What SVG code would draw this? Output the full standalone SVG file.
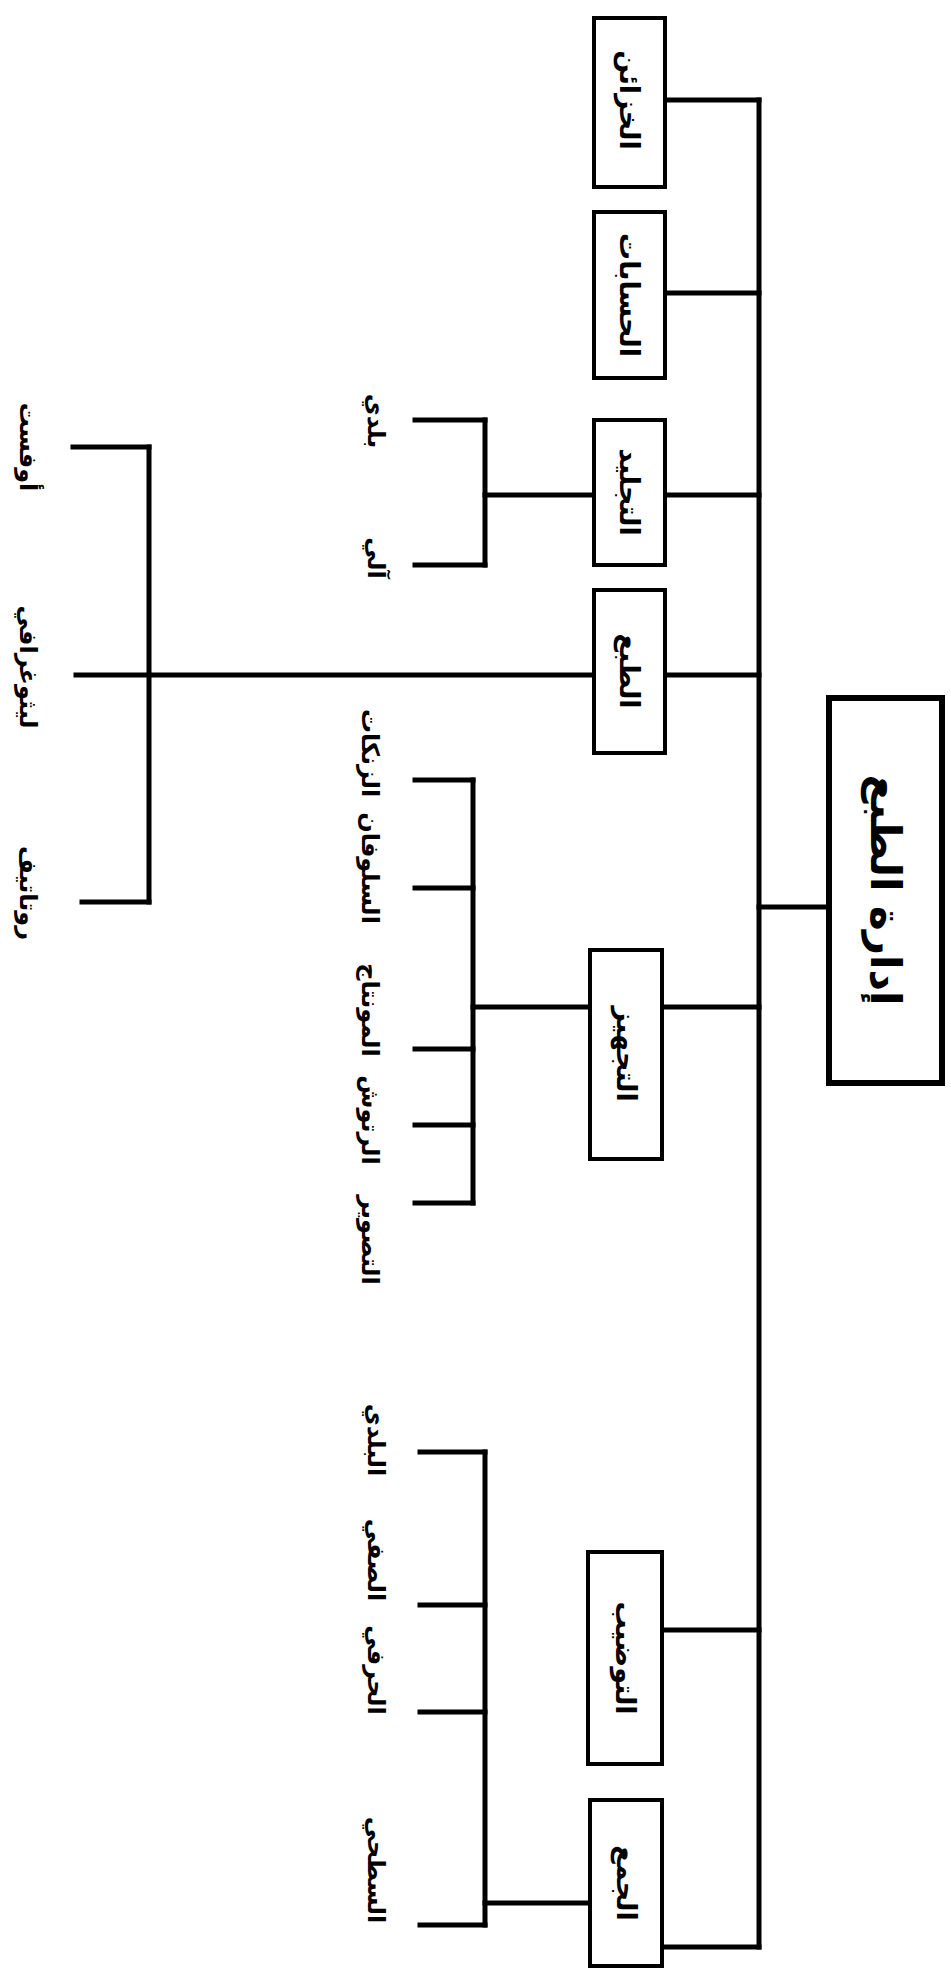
<svg xmlns="http://www.w3.org/2000/svg" width="951" height="1983" viewBox="0 0 951 1983">
<style>
.box{fill:#fff;stroke:#000;stroke-width:4}
.head{fill:#fff;stroke:#000;stroke-width:6}
.ln{stroke:#000;stroke-width:5;fill:none;stroke-linecap:square}
text{font-family:"DejaVu Sans",sans-serif;font-weight:bold;fill:#000;text-anchor:middle;dominant-baseline:central}
.bt{font-size:27px}
.ht{font-size:42px}
.st{font-size:24px}
</style>
<rect width="951" height="1983" fill="#fff"/>
<g id="connectors">
<line class="ln" x1="759" y1="100" x2="759" y2="1947"/>
<line class="ln" x1="665" y1="100" x2="759" y2="100"/>
<line class="ln" x1="665" y1="293" x2="759" y2="293"/>
<line class="ln" x1="665" y1="495" x2="759" y2="495"/>
<line class="ln" x1="665" y1="675" x2="759" y2="675"/>
<line class="ln" x1="662" y1="1007" x2="759" y2="1007"/>
<line class="ln" x1="662" y1="1630" x2="759" y2="1630"/>
<line class="ln" x1="662" y1="1947" x2="759" y2="1947"/>
<line class="ln" x1="759" y1="907" x2="829" y2="907"/>
<line class="ln" x1="594" y1="495" x2="485" y2="495"/>
<line class="ln" x1="485" y1="420" x2="485" y2="565"/>
<line class="ln" x1="415" y1="420" x2="485" y2="420"/>
<line class="ln" x1="415" y1="565" x2="485" y2="565"/>
<line class="ln" x1="594" y1="675" x2="76" y2="675"/>
<line class="ln" x1="149" y1="447" x2="149" y2="902"/>
<line class="ln" x1="73" y1="447" x2="149" y2="447"/>
<line class="ln" x1="82" y1="902" x2="149" y2="902"/>
<line class="ln" x1="592" y1="1007" x2="473" y2="1007"/>
<line class="ln" x1="473" y1="780" x2="473" y2="1203"/>
<line class="ln" x1="415" y1="780" x2="473" y2="780"/>
<line class="ln" x1="415" y1="888" x2="473" y2="888"/>
<line class="ln" x1="415" y1="1049" x2="473" y2="1049"/>
<line class="ln" x1="415" y1="1125" x2="473" y2="1125"/>
<line class="ln" x1="415" y1="1203" x2="473" y2="1203"/>
<line class="ln" x1="592" y1="1903" x2="485" y2="1903"/>
<line class="ln" x1="485" y1="1452" x2="485" y2="1925"/>
<line class="ln" x1="420" y1="1452" x2="485" y2="1452"/>
<line class="ln" x1="420" y1="1605" x2="485" y2="1605"/>
<line class="ln" x1="420" y1="1712" x2="485" y2="1712"/>
<line class="ln" x1="420" y1="1925" x2="485" y2="1925"/>
</g>
<g id="head">
<rect class="head" x="829" y="698" width="113" height="385"/>
<text class="ht" transform="translate(885,890) rotate(90)">إدارة  الطبع</text>
</g>
<g id="n-khazain">
<rect class="box" x="594" y="18" width="71" height="169"/>
<text class="bt" transform="translate(629,100) rotate(90)">الخزائن</text>
</g>
<g id="n-hisabat">
<rect class="box" x="594" y="212" width="71" height="166"/>
<text class="bt" transform="translate(629,295) rotate(90)">الحسابات</text>
</g>
<g id="n-tajlid">
<rect class="box" x="594" y="420" width="71" height="145"/>
<text class="bt" transform="translate(629,492) rotate(90)">التجليد</text>
</g>
<g id="n-tab">
<rect class="box" x="594" y="590" width="71" height="163"/>
<text class="bt" transform="translate(629,671) rotate(90)">الطبع</text>
</g>
<g id="n-tajhiz">
<rect class="box" x="590" y="950" width="72" height="209"/>
<text class="bt" transform="translate(626,1054) rotate(90)">التجهيز</text>
</g>
<g id="n-tawdib">
<rect class="box" x="588" y="1552" width="74" height="212"/>
<text class="bt" transform="translate(625,1658) rotate(90)">التوضيب</text>
</g>
<g id="n-jam">
<rect class="box" x="590" y="1800" width="72" height="166"/>
<text class="bt" transform="translate(626,1883) rotate(90)">الجمع</text>
</g>
<g id="sub-tajlid">
<text class="st" transform="translate(376,421) rotate(90)">بلدي</text>
<text class="st" transform="translate(376,558) rotate(90)">آلي</text>
</g>
<g id="sub-tab">
<text class="st" transform="translate(28,447) rotate(90)">أوفست</text>
<text class="st" transform="translate(28,667) rotate(90)">ليثوغرافي</text>
<text class="st" transform="translate(28,893) rotate(90)">روتاتيف</text>
</g>
<g id="sub-tajhiz">
<text class="st" transform="translate(370,753) rotate(90)">الزنكات</text>
<text class="st" transform="translate(370,868) rotate(90)">السلوفان</text>
<text class="st" transform="translate(370,1010) rotate(90)">المونتاج</text>
<text class="st" transform="translate(370,1120) rotate(90)">الرتوش</text>
<text class="st" transform="translate(370,1240) rotate(90)">التصوير</text>
</g>
<g id="sub-jam">
<text class="st" transform="translate(376,1440) rotate(90)">البلدي</text>
<text class="st" transform="translate(376,1560) rotate(90)">الصفي</text>
<text class="st" transform="translate(376,1670) rotate(90)">الحرفي</text>
<text class="st" transform="translate(376,1870) rotate(90)">السطحي</text>
</g>
</svg>
